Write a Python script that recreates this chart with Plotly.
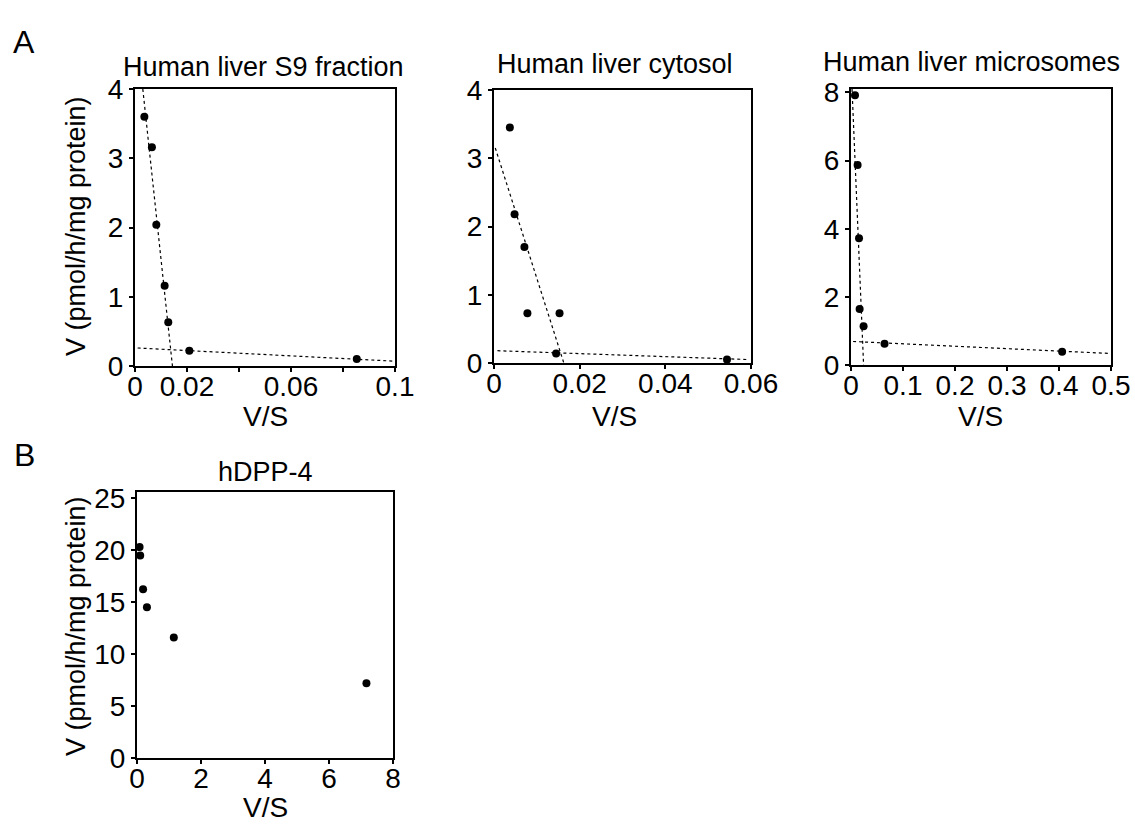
import plotly.graph_objects as go

# ---- data ----
s9_x = [0.0036, 0.0065, 0.0082, 0.0114, 0.0128, 0.0209, 0.0853]
s9_y = [3.60, 3.16, 2.04, 1.16, 0.63, 0.22, 0.10]
s9_fit1_x = [0.0030, 0.0144]
s9_fit1_y = [4.0, 0.0]
s9_fit2_x = [0.001, 0.0995]
s9_fit2_y = [0.26, 0.07]

cy_x = [0.0037, 0.0048, 0.0071, 0.0078, 0.0153, 0.0145, 0.0544]
cy_y = [3.45, 2.18, 1.70, 0.73, 0.73, 0.14, 0.05]
cy_fit1_x = [0.0003, 0.0163]
cy_fit1_y = [3.15, 0.0]
cy_fit2_x = [0.0008, 0.0596]
cy_fit2_y = [0.18, 0.05]

mi_x = [0.0077, 0.0127, 0.0154, 0.0166, 0.0242, 0.0645, 0.406]
mi_y = [7.92, 5.87, 3.72, 1.64, 1.14, 0.62, 0.39]
mi_fit1_x = [0.002, 0.0242]
mi_fit1_y = [8.1, 0.0]
mi_fit2_x = [0.004, 0.496]
mi_fit2_y = [0.69, 0.34]

dpp_x = [0.08, 0.10, 0.19, 0.31, 1.15, 7.17]
dpp_y = [20.3, 19.5, 16.25, 14.5, 11.6, 7.2]

s9_xticks = [0, 0.02, 0.04, 0.06, 0.08, 0.1]
s9_xlabels = ["0", "0.02", "", "0.06", "", "0.1"]
cy_xticks = [0, 0.02, 0.04, 0.06]
cy_xlabels = ["0", "0.02", "0.04", "0.06"]
mi_xticks = [0, 0.1, 0.2, 0.3, 0.4, 0.5]
mi_xlabels = ["0", "0.1", "0.2", "0.3", "0.4", "0.5"]
dpp_xticks = [0, 2, 4, 6, 8]
dpp_xlabels = ["0", "2", "4", "6", "8"]

panel_titles = ["Human liver S9 fraction", "Human liver cytosol",
                "Human liver microsomes", "hDPP-4"]
x_title = "V/S"
y_title = "V (pmol/h/mg protein)"

W, H = 1135, 824
FONT = "Arial, 'Liberation Sans', Helvetica, sans-serif"
FS = 28
FT = 27

fig = go.Figure()

def px_x(v):
    return v / W

def px_y(v):
    return 1 - v / H

# panel domains (pixels: left, right, top, bottom)
doms = [
    (135, 395, 89, 366),
    (494, 751, 90, 363),
    (851, 1111, 89, 365),
    (137, 393, 492, 758),
]

marker = dict(color="black", size=8, symbol="circle")
dot = dict(color="black", width=1.2, dash="dot")

def add_panel(i, xs, ys, fits):
    xa = "x" if i == 1 else f"x{i}"
    ya = "y" if i == 1 else f"y{i}"
    for fx, fy in fits:
        fig.add_trace(go.Scatter(x=fx, y=fy, mode="lines", line=dot,
                                 xaxis=xa, yaxis=ya, showlegend=False,
                                 hoverinfo="skip"))
    fig.add_trace(go.Scatter(x=xs, y=ys, mode="markers", marker=marker,
                             xaxis=xa, yaxis=ya, showlegend=False))

add_panel(1, s9_x, s9_y, [(s9_fit1_x, s9_fit1_y), (s9_fit2_x, s9_fit2_y)])
add_panel(2, cy_x, cy_y, [(cy_fit1_x, cy_fit1_y), (cy_fit2_x, cy_fit2_y)])
add_panel(3, mi_x, mi_y, [(mi_fit1_x, mi_fit1_y), (mi_fit2_x, mi_fit2_y)])
add_panel(4, dpp_x, dpp_y, [])

axis_common = dict(showline=True, linecolor="black", linewidth=2, mirror=True,
                   showgrid=False, zeroline=False, ticks="outside", ticklen=4,
                   tickwidth=1.5, tickcolor="black", automargin=False,
                   tickfont=dict(family=FONT, size=FS, color="black"))

xranges = [[0, 0.1], [0, 0.06], [0, 0.5], [0, 8]]
yranges = [[0, 4], [0, 4], [0, 8.1], [0, 25.6]]
xtv = [(s9_xticks, s9_xlabels), (cy_xticks, cy_xlabels),
       (mi_xticks, mi_xlabels), (dpp_xticks, dpp_xlabels)]
ytv = [[0, 1, 2, 3, 4], [0, 1, 2, 3, 4], [0, 2, 4, 6, 8], [0, 5, 10, 15, 20, 25]]

layout = {}
for i in range(4):
    l, r, t, b = doms[i]
    xk = "xaxis" if i == 0 else f"xaxis{i+1}"
    yk = "yaxis" if i == 0 else f"yaxis{i+1}"
    ya_ref = "y" if i == 0 else f"y{i+1}"
    xa_ref = "x" if i == 0 else f"x{i+1}"
    layout[xk] = dict(axis_common, domain=[px_x(l), px_x(r)], range=xranges[i],
                      tickvals=xtv[i][0], ticktext=xtv[i][1], anchor=ya_ref,
                      ticklabelstandoff=-10)
    layout[yk] = dict(axis_common, domain=[px_y(b), px_y(t)], range=yranges[i],
                      tickvals=ytv[i], anchor=xa_ref)

fig.update_layout(**layout)

ann = []
def text(x, y, s, size=FT, angle=0):
    ann.append(dict(x=px_x(x), y=px_y(y), xref="paper", yref="paper", text=s,
                    showarrow=False, xanchor="center", yanchor="middle",
                    textangle=angle,
                    font=dict(family=FONT, size=size, color="black")))

text(24, 42, "A", size=32)
text(24, 455, "B", size=32)
text(263, 67, panel_titles[0])
text(615, 64, panel_titles[1])
text(972, 62, panel_titles[2])
text(265, 472, panel_titles[3])
text(265, 416, x_title, size=28)
text(614, 416, x_title, size=28)
text(980, 416, x_title, size=28)
text(265, 807, x_title, size=28)
text(76, 226, y_title, angle=-90)
text(76, 626, y_title, angle=-90)

fig.update_layout(annotations=ann, width=W, height=H,
                  margin=dict(l=0, r=0, t=0, b=0, pad=0, autoexpand=False),
                  paper_bgcolor="white", plot_bgcolor="white",
                  showlegend=False)

fig.write_html("out.html",
               config={"responsive": False, "displayModeBar": False},
               post_script="document.body.style.margin='0';"
                           "document.body.style.overflow='hidden';")
